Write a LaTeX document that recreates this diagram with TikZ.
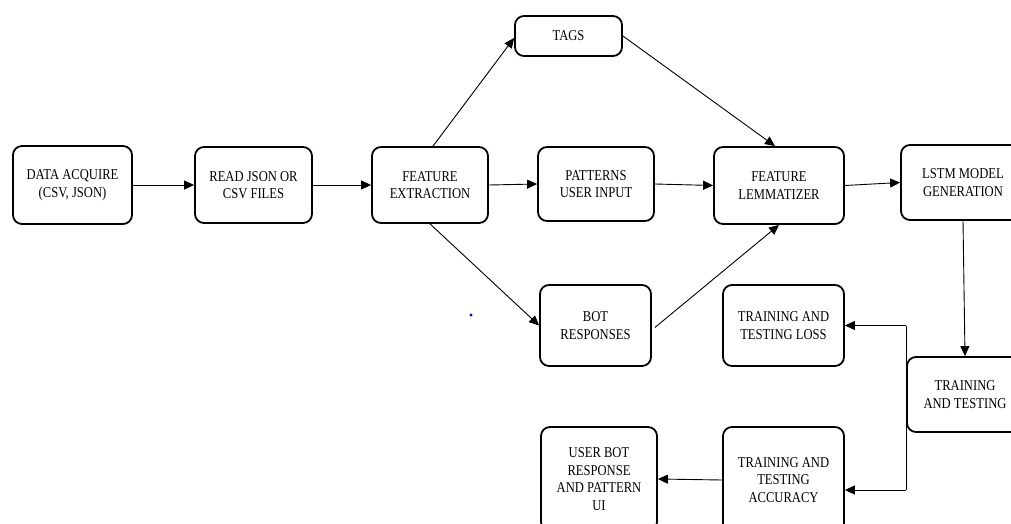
\documentclass[tikz,border=0pt]{standalone}
\usepackage{fontspec}
\setmainfont{Liberation Serif}[FakeStretch=0.84]
\usetikzlibrary{arrows.meta,calc}
\begin{document}
\begin{tikzpicture}[x=1pt,y=-1pt,
  box/.style={draw,line width=1.8pt,rounded corners=9pt,align=center,inner sep=0pt,
    font=\fontsize{15}{17.5}\selectfont},
  arr/.style={line width=0.9pt,-{Triangle[length=10pt,width=9pt]}},
  ln/.style={line width=0.9pt}]
\useasboundingbox (0,0) rectangle (1011,524);
\clip (0,0) rectangle (1011,524);
\node[box,minimum width=119pt,minimum height=78pt] (da) at (72.5,185) {DATA ACQUIRE\\(CSV, JSON)};
\node[box,minimum width=117pt,minimum height=76pt] (rj) at (253.5,185) {READ JSON OR\\CSV FILES};
\node[box,minimum width=116pt,minimum height=76pt] (fe) at (430,185) {FEATURE\\EXTRACTION};
\node[box,minimum width=107pt,minimum height=40pt] (tags) at (568.5,36) {TAGS};
\node[box,minimum width=116pt,minimum height=74pt] (pat) at (596,184) {PATTERNS\\USER INPUT};
\node[box,minimum width=130pt,minimum height=77pt] (lem) at (779,185.5) {FEATURE\\LEMMATIZER};
\node[box,minimum width=124pt,minimum height=75pt] (lstm) at (963,182.5) {LSTM MODEL\\GENERATION};
\node[box,minimum width=111pt,minimum height=81pt] (bot) at (595.5,325.5) {BOT\\RESPONSES};
\node[box,minimum width=121pt,minimum height=81pt] (loss) at (783.5,325.5) {TRAINING AND\\TESTING LOSS};
\node[box,minimum width=116pt,minimum height=75pt] (tt) at (965,394.5) {TRAINING\\AND TESTING};
\node[box,minimum width=121pt,minimum height=106pt] (acc) at (783.5,480) {TRAINING AND\\TESTING\\ACCURACY};
\node[box,minimum width=116pt,minimum height=104pt] (ui) at (599,479) {USER BOT\\RESPONSE\\AND PATTERN\\UI};
\fill[blue] (471,315) circle (1.6pt);
\draw[arr] (da) -- (rj);
\draw[arr] (rj) -- (fe);
\draw[arr] (fe.east) -- (pat.west);
\draw[arr] ([xshift=3pt]fe.north) -- ([yshift=-2pt]tags.west);
\draw[arr] (fe.south) -- (bot.west);
\draw[arr] (tags.east) -- ([xshift=-4pt]lem.north);
\draw[arr] (pat.east) -- (lem.west);
\draw[arr] ([xshift=3pt,yshift=-2pt]bot.east) -- (lem.south);
\draw[arr] (lem.east) -- (lstm.west);
\draw[arr] (lstm.south) -- (tt.north);
\coordinate (j1) at (tt.west |- loss.east);
\coordinate (j2) at ($(tt.west |- acc.east)+(0,10)$);
\draw[ln] (j1) -- (j2);
\draw[arr] (j1) -- (loss.east);
\draw[arr] (j2) -- ($(acc.east)+(0,10)$);
\draw[arr] (acc.west) -- (ui.east);
\end{tikzpicture}
\end{document}
